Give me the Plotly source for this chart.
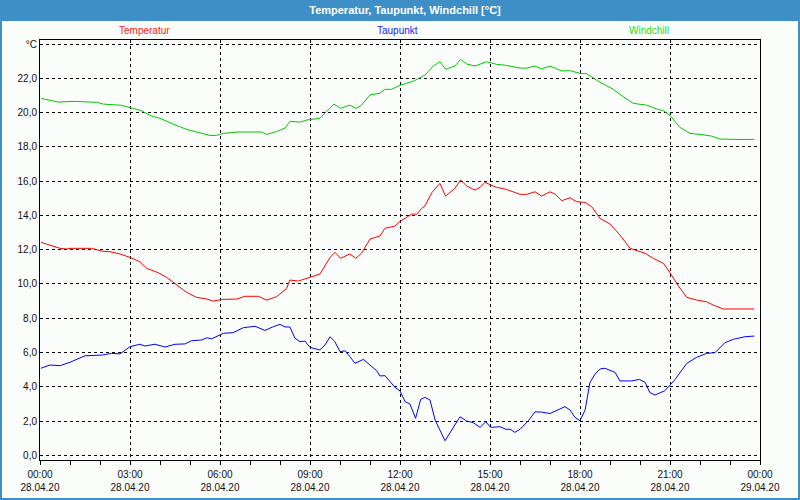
import plotly.graph_objects as go

# ---- data (hours since 28.04.20 00:00, values in °C) ----
temp_hours = [0.03, 0.33, 0.67, 0.89, 1.0, 1.72, 2.06, 2.33, 2.67, 3.0, 3.33, 3.56, 3.94, 4.22, 4.56, 4.89,
              5.22, 5.56, 5.78, 6.06, 6.56, 6.83, 7.28, 7.56, 7.89, 8.22, 8.33, 8.61, 9.0, 9.33, 9.67, 9.83,
              10.02, 10.33, 10.53, 10.72, 11.0, 11.33, 11.5, 11.83, 12.0, 12.39, 12.56, 12.72, 12.83, 13.06,
              13.33, 13.52, 13.83, 14.02, 14.22, 14.5, 14.67, 14.83, 15.22, 15.55, 16.0, 16.22, 16.5, 16.72,
              17.0, 17.17, 17.39, 17.67, 17.89, 18.17, 18.39, 18.67, 19.0, 19.33, 19.67, 20.17, 20.44, 20.78,
              21.0, 21.28, 21.56, 21.89, 22.22, 22.44, 22.78, 23.81]
temp_values = [12.43, 12.27, 12.08, 12.04, 12.08, 12.08, 11.92, 11.88, 11.75, 11.55, 11.3, 10.91, 10.66, 10.39, 9.94, 9.51,
               9.22, 9.12, 9.0, 9.1, 9.12, 9.28, 9.28, 9.06, 9.26, 9.74, 10.23, 10.17, 10.39, 10.58, 11.55, 11.85,
               11.5, 11.75, 11.5, 11.8, 12.62, 12.8, 13.25, 13.38, 13.65, 14.08, 14.07, 14.41, 14.55, 15.33,
               15.87, 15.13, 15.58, 16.07, 15.72, 15.48, 15.64, 15.93, 15.64, 15.52, 15.23, 15.23, 15.38, 15.13,
               15.38, 15.25, 14.86, 15.03, 14.8, 14.76, 14.51, 13.83, 13.5, 12.86, 12.08, 11.79, 11.5, 11.2,
               10.66, 9.88, 9.22, 9.06, 8.96, 8.77, 8.54, 8.54]

dew_hours = [0.03, 0.33, 0.67, 1.0, 1.5, 2.06, 2.39, 2.67, 3.0, 3.33, 3.5, 3.83, 4.17, 4.5, 4.83, 5.06, 5.39, 5.56,
             5.72, 6.11, 6.44, 6.78, 7.17, 7.5, 7.78, 8.0, 8.17, 8.33, 8.5, 8.67, 8.83, 9.0, 9.33, 9.5, 9.67, 9.83,
             10.0, 10.17, 10.33, 10.5, 10.78, 11.22, 11.33, 11.5, 11.83, 12.0, 12.17, 12.33, 12.52, 12.69, 12.83,
             13.0, 13.17, 13.5, 14.0, 14.22, 14.44, 14.67, 14.86, 15.02, 15.33, 15.53, 15.67, 15.83, 16.0, 16.28,
             16.5, 16.72, 17.0, 17.22, 17.5, 17.67, 17.83, 18.0, 18.17, 18.33, 18.5, 18.67, 18.83, 19.17, 19.33,
             19.72, 19.98, 20.17, 20.33, 20.5, 20.83, 21.17, 21.56, 21.89, 22.22, 22.5, 22.83, 23.11, 23.5, 23.81]
dew_values = [5.08, 5.27, 5.23, 5.43, 5.81, 5.85, 5.95, 5.92, 6.34, 6.48, 6.38, 6.48, 6.32, 6.48, 6.5, 6.69, 6.73, 6.86,
              6.8, 7.12, 7.16, 7.45, 7.53, 7.29, 7.51, 7.64, 7.49, 7.49, 6.83, 6.63, 6.67, 6.3, 6.15, 6.44, 6.92, 6.63,
              6.05, 6.1, 5.76, 5.37, 5.6, 4.94, 4.63, 4.65, 3.97, 3.76, 3.13, 3.0, 2.16, 3.27, 3.38,
              3.23, 2.06, 0.85, 2.25, 2.0, 1.91, 1.63, 1.96, 1.63, 1.67, 1.52, 1.52, 1.34, 1.52, 2.02,
              2.54, 2.52, 2.44, 2.6, 2.84, 2.64, 2.22, 2.02, 2.64, 4.24, 4.74, 5.04, 5.08, 4.84, 4.34,
              4.34, 4.43, 4.26, 3.66, 3.52, 3.77, 4.43, 5.37, 5.72, 5.95, 5.99, 6.57, 6.77, 6.92, 6.96]

wind_hours = [0.03, 0.61, 1.17, 1.89, 2.11, 2.72, 3.0, 3.33, 3.72, 4.0, 4.44, 4.89, 5.22, 5.67, 5.89, 6.11, 6.61,
              7.39, 7.56, 7.89, 8.17, 8.33, 8.67, 8.89, 9.33, 9.56, 9.8, 10.02, 10.33, 10.53, 10.72, 11.0, 11.33,
              11.5, 11.72, 12.0, 12.44, 12.83, 13.11, 13.33, 13.52, 13.83, 14.02, 14.22, 14.5, 14.89, 15.22, 15.55,
              16.0, 16.22, 16.5, 16.72, 17.0, 17.39, 17.67, 18.0, 18.22, 18.67, 19.11, 19.44, 19.78, 20.22, 20.56,
              20.78, 21.0, 21.33, 21.67, 22.0, 22.39, 22.67, 23.22, 23.33, 23.81]
wind_values = [20.83, 20.62, 20.66, 20.6, 20.5, 20.43, 20.29, 20.15, 19.8, 19.67, 19.33, 19.02, 18.87, 18.67, 18.67, 18.79, 18.87,
               18.87, 18.73, 18.9, 19.1, 19.49, 19.45, 19.57, 19.67, 20.05, 20.5, 20.25, 20.44, 20.25, 20.44, 21.03, 21.13,
               21.36, 21.36, 21.6, 21.83, 22.19, 22.72, 22.97, 22.53, 22.72, 23.11, 22.84, 22.72, 22.97, 22.82, 22.76,
               22.6, 22.6, 22.72, 22.55, 22.72, 22.43, 22.45, 22.29, 22.27, 21.77, 21.36, 20.93, 20.54, 20.44, 20.21,
               20.11, 19.84, 19.14, 18.79, 18.73, 18.63, 18.46, 18.4, 18.43, 18.44]

x_tick_hours = [0, 3, 6, 9, 12, 15, 18, 21, 24]
x_tick_labels = ["00:00<br>28.04.20", "03:00<br>28.04.20", "06:00<br>28.04.20", "09:00<br>28.04.20",
                 "12:00<br>28.04.20", "15:00<br>28.04.20", "18:00<br>28.04.20", "21:00<br>28.04.20",
                 "00:00<br>29.04.20"]
y_tick_values = [0, 2, 4, 6, 8, 10, 12, 14, 16, 18, 20, 22, 24]
y_tick_labels = ["0,0", "2,0", "4,0", "6,0", "8,0", "10,0", "12,0", "14,0", "16,0", "18,0", "20,0", "22,0", "°C"]

series_names = ["Temperatur", "Taupunkt", "Windchill"]
line_colors = ["#ff0000", "#0000ff", "#00c800"]
label_colors = ["#ff2020", "#2020ff", "#22dd22"]

BG = "#fbfdfb"
BLUE = "#3d8fc6"
FONT = "Liberation Sans"

fig = go.Figure()
for name, hx, vy, col in zip(series_names, [temp_hours, dew_hours, wind_hours],
                             [temp_values, dew_values, wind_values], line_colors):
    fig.add_trace(go.Scatter(x=hx, y=vy, mode="lines", name=name,
                             line=dict(color=col, width=1), showlegend=False))

# frame (blue paper shows through as title bar and border)
fig.add_shape(type="rect", xref="paper", yref="paper",
              x0=(2 - 40) / 720, x1=(798 - 40) / 720,
              y0=(460 - 498) / 420, y1=(460 - 21) / 420,
              fillcolor=BG, line=dict(width=0), layer="below")

# series labels
for name, col, px in zip(series_names, label_colors, [144, 397, 649]):
    fig.add_annotation(text=name, xref="paper", yref="paper",
                       x=(px - 40) / 720, y=(460 - 30) / 420,
                       xanchor="center", yanchor="middle", showarrow=False,
                       font=dict(family=FONT, size=10, color=col))

fig.update_layout(
    width=800, height=500,
    margin=dict(l=40, r=40, t=40, b=40, autoexpand=False),
    paper_bgcolor=BLUE, plot_bgcolor=BG,
    title=dict(text="<b>Temperatur, Taupunkt, Windchill [°C]</b>", x=(405 - 0) / 800, xanchor="center",
               y=1 - 10.5 / 500, yanchor="middle",
               font=dict(family=FONT, size=11, color="white")),
    font=dict(family=FONT, size=10, color="#111111"),
)
fig.update_xaxes(range=[0, 24], tickmode="array", tickvals=x_tick_hours, ticktext=x_tick_labels,
                 automargin=False,
                 showline=True, linecolor="black", linewidth=1, mirror=True,
                 ticks="outside", ticklen=4, tickcolor="black", ticklabelstandoff=1,
                 minor=dict(dtick=1, ticks="outside", ticklen=4, tickcolor="black", showgrid=False),
                 showgrid=True, gridcolor="black", gridwidth=1, griddash="3px,3px", zeroline=False,
                 tickfont=dict(family=FONT, size=10, color="#111111"))
fig.update_yaxes(range=[-0.274, 24.24], tickmode="array", tickvals=y_tick_values, ticktext=y_tick_labels,
                 automargin=False,
                 showline=True, linecolor="black", linewidth=1, mirror=True, ticks="",
                 showgrid=True, gridcolor="black", gridwidth=1, griddash="3px,3px", zeroline=False,
                 tickfont=dict(family=FONT, size=10, color="#111111"))

fig.write_html("out.html")
